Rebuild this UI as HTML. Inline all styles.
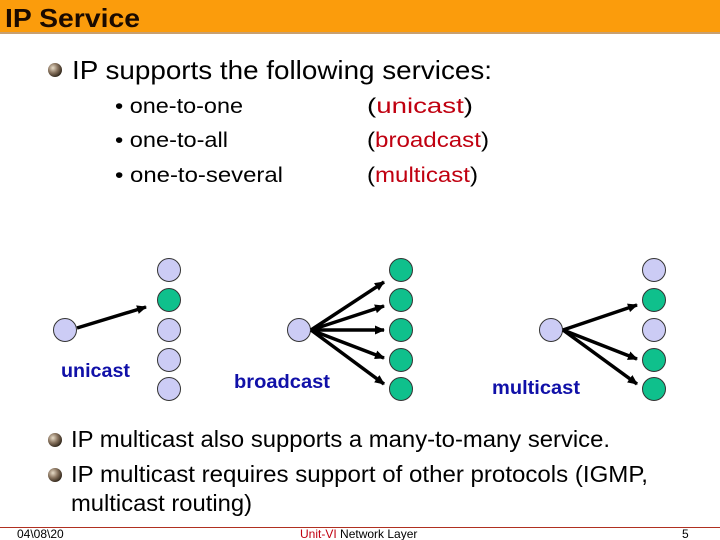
<!DOCTYPE html>
<html><head><meta charset="utf-8"><style>
body{margin:0;width:720px;height:540px;overflow:hidden;background:#fff}
svg{display:block}
text{font-family:"Liberation Sans",Arial,sans-serif}
</style></head><body>
<svg width="720" height="540" viewBox="0 0 720 540" xmlns="http://www.w3.org/2000/svg">
<defs>
<radialGradient id="b" cx="0.35" cy="0.35" r="0.7"><stop offset="0" stop-color="#e8dcc8"/><stop offset="0.5" stop-color="#8a7560"/><stop offset="1" stop-color="#2e2418"/></radialGradient>
<marker id="a" markerWidth="10" markerHeight="9" refX="9" refY="4.5" orient="auto" markerUnits="userSpaceOnUse"><path d="M0,0 L10,4.5 L0,9 z" fill="#000"/></marker>
</defs>
<rect x="0" y="0" width="720" height="32" fill="#fb9c0c"/>
<rect x="0" y="32" width="720" height="2" fill="#c8a070"/>
<text x="5" y="27" font-size="26" font-weight="bold" fill="#1a0a00" textLength="135" lengthAdjust="spacingAndGlyphs">IP Service</text>

<circle cx="55" cy="70" r="7" fill="url(#b)"/>
<text x="72" y="79" font-size="26" fill="#000" textLength="420" lengthAdjust="spacingAndGlyphs">IP supports the following services:</text>
<g font-size="21" fill="#000">
<text x="115" y="113" textLength="128" lengthAdjust="spacingAndGlyphs">• one-to-one</text>
<text x="115" y="147" textLength="113" lengthAdjust="spacingAndGlyphs">• one-to-all</text>
<text x="115" y="182" textLength="168" lengthAdjust="spacingAndGlyphs">• one-to-several</text>
<text x="367" y="113" textLength="106" lengthAdjust="spacingAndGlyphs">(<tspan fill="#c00010">unicast</tspan>)</text>
<text x="367" y="147" textLength="122" lengthAdjust="spacingAndGlyphs">(<tspan fill="#c00010">broadcast</tspan>)</text>
<text x="367" y="182" textLength="111" lengthAdjust="spacingAndGlyphs">(<tspan fill="#c00010">multicast</tspan>)</text>
</g>

<g stroke="#333" stroke-width="1">
<circle cx="65" cy="330" r="11.5" fill="#ccccf5"/>
<circle cx="169" cy="270" r="11.5" fill="#ccccf5"/>
<circle cx="169" cy="300" r="11.5" fill="#0fc08c"/>
<circle cx="169" cy="330" r="11.5" fill="#ccccf5"/>
<circle cx="169" cy="360" r="11.5" fill="#ccccf5"/>
<circle cx="169" cy="389" r="11.5" fill="#ccccf5"/>

<circle cx="299" cy="330" r="11.5" fill="#ccccf5"/>
<circle cx="401" cy="270" r="11.5" fill="#0fc08c"/>
<circle cx="401" cy="300" r="11.5" fill="#0fc08c"/>
<circle cx="401" cy="330" r="11.5" fill="#0fc08c"/>
<circle cx="401" cy="360" r="11.5" fill="#0fc08c"/>
<circle cx="401" cy="389" r="11.5" fill="#0fc08c"/>

<circle cx="551" cy="330" r="11.5" fill="#ccccf5"/>
<circle cx="654" cy="270" r="11.5" fill="#ccccf5"/>
<circle cx="654" cy="300" r="11.5" fill="#0fc08c"/>
<circle cx="654" cy="330" r="11.5" fill="#ccccf5"/>
<circle cx="654" cy="360" r="11.5" fill="#0fc08c"/>
<circle cx="654" cy="389" r="11.5" fill="#0fc08c"/>
</g>
<g stroke="#000" stroke-width="3.5" marker-end="url(#a)">
<line x1="77" y1="328" x2="146" y2="307"/>
<line x1="311" y1="330" x2="384" y2="282"/>
<line x1="311" y1="330" x2="384" y2="306"/>
<line x1="311" y1="330" x2="384" y2="330"/>
<line x1="311" y1="330" x2="384" y2="358"/>
<line x1="311" y1="330" x2="384" y2="384"/>
<line x1="563" y1="330" x2="637" y2="305"/>
<line x1="563" y1="330" x2="637" y2="359"/>
<line x1="563" y1="330" x2="637" y2="384"/>
</g>
<g font-size="19" font-weight="bold" fill="#1010a8">
<text x="61" y="377" textLength="69" lengthAdjust="spacingAndGlyphs">unicast</text>
<text x="234" y="388" textLength="96" lengthAdjust="spacingAndGlyphs">broadcast</text>
<text x="492" y="394" textLength="88" lengthAdjust="spacingAndGlyphs">multicast</text>
</g>

<circle cx="55" cy="440" r="7" fill="url(#b)"/>
<circle cx="55" cy="475" r="7" fill="url(#b)"/>
<g font-size="23" fill="#000">
<text x="71" y="447" textLength="539" lengthAdjust="spacingAndGlyphs">IP multicast also supports a many-to-many service.</text>
<text x="71" y="482" textLength="577" lengthAdjust="spacingAndGlyphs">IP multicast requires support of other protocols (IGMP,</text>
<text x="71" y="511" textLength="181" lengthAdjust="spacingAndGlyphs">multicast routing)</text>
</g>
<rect x="0" y="527" width="720" height="1" fill="#b03020"/>
<g font-size="12" fill="#000">
<text x="17" y="538">04\08\20</text>
<text x="300" y="538"><tspan fill="#c00010">Unit-VI</tspan> Network Layer</text>
<text x="682" y="538">5</text>
</g>
</svg>
</body></html>
